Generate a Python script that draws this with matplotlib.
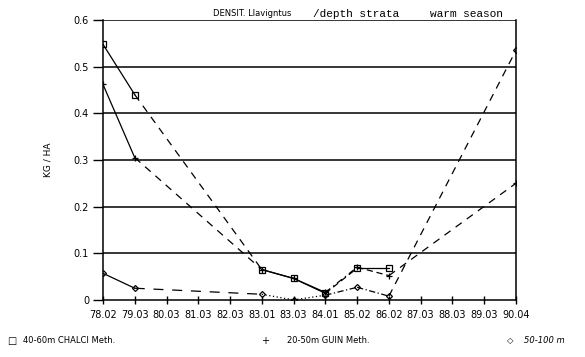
import numpy as np
import matplotlib
matplotlib.use("Agg")
import matplotlib.pyplot as plt

dates = ["78.02", "79.03", "80.03", "81.03", "82.03", "83.01", "83.03",
         "84.01", "85.02", "86.02", "87.03", "88.03", "89.03", "90.04"]
nan = np.nan
chalci = [0.548, 0.440, nan, nan, nan, 0.065, 0.046, 0.014, 0.068, 0.068, nan, nan, nan, nan]
guin = [0.462, 0.305, nan, nan, nan, 0.065, 0.046, 0.016, 0.070, 0.052, nan, nan, nan, 0.250]
deep = [0.057, 0.025, nan, nan, nan, 0.012, 0.000, 0.010, 0.027, 0.008, nan, nan, nan, 0.535]

# line style of each drawn segment, in order
chalci_ls = ["-", (0, (6, 5)), "-", "-", (0, (5, 3)), "-"]
guin_ls = ["-", (0, (6, 5)), "-", "-", (0, (5, 3, 1, 3)), (0, (5, 3)), (0, (6, 5))]
deep_ls = ["-", (0, (8, 7)), (0, (1, 2)), (0, (1, 2)), (0, (5, 2, 1, 2)), (0, (5, 2, 1, 2)), (0, (6, 5))]

fig = plt.figure(figsize=(5.85, 3.57), dpi=100)
ax = fig.add_axes([0.176, 0.160, 0.706, 0.784])
x = np.arange(len(dates))


def draw(vals, styles, marker, ms):
    v = np.array(vals)
    idx = np.where(~np.isnan(v))[0]
    for k, (a, b) in enumerate(zip(idx[:-1], idx[1:])):
        ax.plot([x[a], x[b]], [v[a], v[b]], color="black", lw=0.9, ls=styles[k])
    ax.plot(x[idx], v[idx], ls="none", marker=marker, ms=ms, mfc="none",
            mec="black", mew=0.9)


draw(chalci, chalci_ls, "s", 4.5)
draw(guin, guin_ls, "+", 5)
draw(deep, deep_ls, "D", 3)

for yv in [0.1, 0.2, 0.3, 0.4, 0.5, 0.6]:
    ax.axhline(yv, color="black", lw=1.1)

ax.set_xlim(0, len(dates) - 1)
ax.set_ylim(0, 0.6)
ax.set_xticks(x)
ax.set_xticklabels(dates, fontsize=7)
ax.set_yticks([0, 0.1, 0.2, 0.3, 0.4, 0.5, 0.6])
ax.set_yticklabels(["0", "0.1", "0.2", "0.3", "0.4", "0.5", "0.6"], fontsize=7)
ax.tick_params(axis="x", direction="inout", length=6, width=1, pad=4)
ax.tick_params(axis="y", direction="out", length=7, width=1, pad=3)
ax.spines["top"].set_visible(False)
for s in ["left", "right", "bottom"]:
    ax.spines[s].set_linewidth(1.1)
ax.set_ylabel("KG / HA", fontsize=6.5, labelpad=15)

fig.text(0.364, 0.962, "DENSIT. Llavigntus", fontsize=6, va="center")
fig.text(0.535, 0.962, "/depth strata", fontsize=8, family="Liberation Mono", va="center")
fig.text(0.735, 0.962, "warm season", fontsize=8, family="Liberation Mono", va="center")

fig.text(0.012, 0.045, "□", fontsize=7, va="center")
fig.text(0.040, 0.045, "40-60m CHALCI Meth.", fontsize=6, va="center")
fig.text(0.446, 0.045, "+", fontsize=7, va="center")
fig.text(0.490, 0.045, "20-50m GUIN Meth.", fontsize=6, va="center")
fig.text(0.866, 0.045, "◇", fontsize=6, va="center")
fig.text(0.895, 0.045, "50-100 m", fontsize=6, style="italic", va="center")

fig.savefig("out.png", dpi=100)
